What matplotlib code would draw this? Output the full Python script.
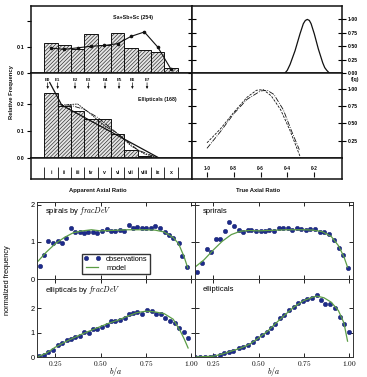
"""Figura compuesta: histogramas de razón axial (escaneo) y frecuencias normalizadas de b/a."""

import matplotlib
import matplotlib.pyplot as plt
import numpy as np

matplotlib.use("Agg")

W, H = 367, 377
plt.rcParams["mathtext.fontset"] = "cm"
plt.rcParams["hatch.linewidth"] = 0.4
plt.rcParams["font.family"] = ["Liberation Sans", "DejaVu Sans"]

# ---------------- parte superior: histogramas de razón axial aparente
clases = ["i", "ii", "iii", "iv", "v", "vi", "vii", "viii", "ix", "x"]
esp_frec = [0.117, 0.109, 0.094, 0.149, 0.106, 0.155, 0.096, 0.090, 0.081, 0.020]
esp_modelo = [0.096, 0.091, 0.097, 0.103, 0.106, 0.113, 0.141, 0.158, 0.100, 0.014]
eli_frec = [0.241, 0.191, 0.173, 0.146, 0.146, 0.088, 0.028, 0.009, 0.0, 0.0]
eli_recta_x = [0.4, 1.1, 1.3, 8.6]
eli_recta_y = [0.28, 0.215, 0.196, 0.0]
eli_rayas1_x = [1.0, 1.8, 2.5, 3.3, 4.5, 5.5, 6.5, 7.5, 8.6]
eli_rayas1_y = [0.19, 0.198, 0.20, 0.17, 0.12, 0.09, 0.045, 0.015, 0.0]
eli_rayas2_x = [1.0, 2.0, 3.0, 4.0, 5.0, 6.0, 7.0, 8.0, 8.6]
eli_rayas2_y = [0.20, 0.195, 0.18, 0.15, 0.11, 0.07, 0.03, 0.01, 0.0]
etiquetas_e = ["E0", "E1", "E2", "E3", "E4", "E5", "E6", "E7"]
pos_e = [0.25, 1.0, 2.3, 3.3, 4.55, 5.6, 6.6, 7.7]

# razón axial verdadera f(q)
q_ticks = [1.0, 0.8, 0.6, 0.4, 0.2]
q_etiquetas = ["1·0", "0·8", "0·6", "0·4", "0·2"]
fq_esp_q = [0.417, 0.40, 0.379, 0.342, 0.305, 0.28, 0.265, 0.25, 0.235, 0.222,
            0.198, 0.168, 0.135, 0.12, 0.105, 0.086]
fq_esp_f = [0.0, 0.05, 0.16, 0.415, 0.73, 0.92, 0.98, 1.0, 0.98, 0.92,
            0.73, 0.45, 0.19, 0.10, 0.05, 0.0]
fq_eli1_q = [1.0, 0.9, 0.8, 0.7, 0.63, 0.58, 0.52, 0.45, 0.38, 0.30]
fq_eli1_f = [0.22, 0.42, 0.66, 0.88, 0.98, 0.99, 0.90, 0.70, 0.40, 0.0]
fq_eli2_q = [1.0, 0.9, 0.8, 0.7, 0.6, 0.55, 0.5, 0.43, 0.37, 0.31]
fq_eli2_f = [0.14, 0.38, 0.64, 0.85, 0.97, 0.98, 0.92, 0.70, 0.40, 0.12]

# ---------------- parte inferior: frecuencia normalizada de b/a
esp_frac_b = [0.164, 0.186, 0.213, 0.237, 0.263, 0.287, 0.31, 0.336, 0.359, 0.387,
              0.41, 0.43, 0.46, 0.48, 0.51, 0.535, 0.56, 0.58, 0.605, 0.63,
              0.657, 0.68, 0.70, 0.73, 0.75, 0.778, 0.80, 0.83, 0.855, 0.878,
              0.90, 0.93, 0.95, 0.976]
esp_frac_v = [0.36, 0.66, 1.04, 0.98, 1.04, 0.98, 1.12, 1.38, 1.27, 1.27,
              1.24, 1.27, 1.26, 1.25, 1.31, 1.36, 1.29, 1.29, 1.33, 1.31,
              1.45, 1.38, 1.40, 1.39, 1.39, 1.38, 1.43, 1.38, 1.27, 1.18,
              1.12, 0.96, 0.61, 0.32]
esp_frac_mod_b = [0.15, 0.2, 0.25, 0.3, 0.35, 0.4, 0.45, 0.5, 0.55, 0.6, 0.65,
                  0.7, 0.75, 0.8, 0.85, 0.9, 0.93, 0.96, 0.98]
esp_frac_mod_v = [0.45, 0.72, 0.95, 1.12, 1.25, 1.30, 1.33, 1.30, 1.31, 1.32, 1.33,
                  1.33, 1.33, 1.32, 1.27, 1.12, 0.95, 0.60, 0.30]

esp_b = [0.159, 0.187, 0.215, 0.239, 0.265, 0.289, 0.313, 0.339, 0.363, 0.39,
         0.413, 0.44, 0.46, 0.487, 0.513, 0.537, 0.56, 0.587, 0.61, 0.635,
         0.66, 0.685, 0.71, 0.735, 0.76, 0.785, 0.813, 0.837, 0.862, 0.887,
         0.915, 0.943, 0.967, 0.993]
esp_v = [0.18, 0.44, 0.80, 0.74, 1.08, 1.08, 1.31, 1.54, 1.43, 1.32,
         1.27, 1.32, 1.32, 1.30, 1.31, 1.31, 1.32, 1.30, 1.37, 1.37,
         1.39, 1.32, 1.37, 1.34, 1.32, 1.34, 1.35, 1.27, 1.27, 1.21,
         1.06, 0.85, 0.65, 0.30]
esp_mod_b = [0.15, 0.2, 0.25, 0.3, 0.35, 0.4, 0.45, 0.5, 0.55, 0.6, 0.65, 0.7,
             0.75, 0.8, 0.85, 0.9, 0.94, 0.97, 0.99]
esp_mod_v = [0.32, 0.52, 0.78, 1.02, 1.20, 1.29, 1.31, 1.30, 1.31, 1.32, 1.33, 1.33,
             1.33, 1.32, 1.28, 1.15, 0.90, 0.60, 0.32]

eli_frac_b = [0.159, 0.186, 0.213, 0.24, 0.263, 0.287, 0.314, 0.336, 0.359, 0.387,
              0.41, 0.436, 0.459, 0.483, 0.509, 0.533, 0.556, 0.582, 0.605, 0.632,
              0.656, 0.678, 0.702, 0.729, 0.754, 0.782, 0.806, 0.833, 0.857, 0.882,
              0.91, 0.933, 0.957, 0.982]
eli_frac_v = [0.05, 0.08, 0.22, 0.29, 0.49, 0.56, 0.69, 0.72, 0.83, 0.86,
              1.01, 0.97, 1.16, 1.13, 1.24, 1.31, 1.47, 1.47, 1.51, 1.62,
              1.78, 1.81, 1.85, 1.76, 1.92, 1.89, 1.78, 1.78, 1.62, 1.48,
              1.40, 1.21, 1.01, 0.80]
eli_frac_mod_b = [0.15, 0.2, 0.25, 0.3, 0.35, 0.4, 0.45, 0.5, 0.55, 0.6, 0.65,
                  0.7, 0.75, 0.8, 0.85, 0.9, 0.94, 0.96, 0.982]
eli_frac_mod_v = [0.0, 0.15, 0.40, 0.60, 0.78, 0.95, 1.10, 1.25, 1.40, 1.52, 1.68,
                  1.82, 1.88, 1.85, 1.78, 1.55, 1.05, 0.75, 0.37]

eli_b = [0.15, 0.178, 0.206, 0.23, 0.256, 0.285, 0.307, 0.335, 0.359, 0.39,
         0.415, 0.44, 0.468, 0.493, 0.517, 0.544, 0.567, 0.59, 0.617, 0.64,
         0.668, 0.693, 0.718, 0.743, 0.767, 0.793, 0.82, 0.844, 0.868, 0.896,
         0.922, 0.946, 0.97, 0.996]
eli_v = [0.01, 0.01, 0.01, 0.01, 0.04, 0.08, 0.15, 0.22, 0.26, 0.35,
         0.40, 0.49, 0.63, 0.76, 0.90, 1.03, 1.21, 1.35, 1.58, 1.71,
         1.92, 2.05, 2.23, 2.30, 2.40, 2.44, 2.53, 2.35, 2.19, 2.16,
         1.99, 1.65, 1.35, 1.03]
eli_mod_b = [0.15, 0.25, 0.3, 0.35, 0.4, 0.45, 0.5, 0.55, 0.6, 0.65, 0.7, 0.75,
             0.8, 0.82, 0.86, 0.9, 0.94, 0.97, 0.99]
eli_mod_v = [0.0, 0.03, 0.12, 0.24, 0.36, 0.52, 0.78, 1.06, 1.42, 1.76, 2.08, 2.32,
             2.46, 2.50, 2.43, 2.25, 1.90, 1.40, 0.65]

b_ticks = [0.25, 0.50, 0.75, 1.00]
b_etiquetas = [r"$0.25$", r"$0.50$", r"$0.75$", r"$1.00$"]

AZUL = "#1d2b8c"
VERDE = "#5c9d46"
NEGRO = "#111111"


def caja(fig, x0, y0, x1, y1):
    """Ejes a partir de una caja en píxeles (origen arriba a la izquierda)."""
    return fig.add_axes([x0 / W, 1 - y1 / H, (x1 - x0) / W, (y1 - y0) / H])


def marco(ax):
    for lado in ax.spines.values():
        lado.set_linewidth(1.1)
        lado.set_color(NEGRO)
    ax.set_xticks([])
    ax.set_yticks([])


fig = plt.figure(figsize=(W / 100, H / 100), dpi=100)

ax_h1 = caja(fig, 31, 6, 192, 73)
ax_h2 = caja(fig, 31, 73, 192, 158)
ax_sl = caja(fig, 31, 158, 192, 179)
ax_f1 = caja(fig, 192, 6, 342, 73)
ax_f2 = caja(fig, 192, 73, 342, 158)
ax_sr = caja(fig, 192, 158, 342, 179)
for ax in (ax_h1, ax_h2, ax_sl, ax_f1, ax_f2, ax_sr):
    marco(ax)

fuente_scan = dict(fontsize=3.8, fontweight="bold", color=NEGRO)
x_bins = np.arange(len(clases))

# histograma espirales
ax_h1.bar(x_bins, esp_frec, width=1, align="edge", facecolor="#e4e4e4",
          edgecolor=NEGRO, hatch="/" * 9, linewidth=0.7)
ax_h1.plot(x_bins + 0.5, esp_modelo, "-o", color=NEGRO, ms=1.6, lw=0.8)
ax_h1.set_xlim(-1, 11.07)
ax_h1.set_ylim(0, 0.258)
ax_h1.text(6.65, 0.215, "Sa+Sb+Sc (254)", ha="center", va="center", **fuente_scan)

# histograma elípticas
ax_h2.bar(x_bins, eli_frec, width=1, align="edge", facecolor="#e4e4e4",
          edgecolor=NEGRO, hatch="/" * 9, linewidth=0.7)
ax_h2.plot(eli_recta_x, eli_recta_y, "-", color=NEGRO, lw=0.9)
ax_h2.plot(eli_rayas1_x, eli_rayas1_y, "--", color=NEGRO, lw=0.6, dashes=(2, 1))
ax_h2.plot(eli_rayas2_x, eli_rayas2_y, "-.", color=NEGRO, lw=0.6)
ax_h2.set_xlim(-1, 11.07)
ax_h2.set_ylim(0, 0.315)
ax_h2.text(8.45, 0.215, "Ellipticals (168)", ha="center", va="center", **fuente_scan)
for etiqueta, x in zip(etiquetas_e, pos_e):
    ax_h2.text(x, 0.289, etiqueta, ha="center", va="center", fontsize=3.2,
               fontweight="bold", color=NEGRO)
    ax_h2.annotate("", xy=(x, 0.256), xytext=(x, 0.279),
                   arrowprops=dict(arrowstyle="-|>", lw=0.5, color=NEGRO,
                                   mutation_scale=3, shrinkA=0, shrinkB=0))

for ax, ticks, etiquetas in ((ax_h1, [0.0, 0.1, 0.2], ["0·0", "0·1", ""]),
                             (ax_h2, [0.0, 0.1, 0.2], ["0·0", "0·1", "0·2"])):
    ax.set_yticks(ticks)
    ax.set_yticklabels(etiquetas)
    ax.tick_params(axis="y", direction="out", length=3, width=0.8, pad=1.5,
                   labelsize=3.8, right=True)
    for t in ax.get_yticklabels():
        t.set_fontweight("bold")

# franja de clases
ax_sl.set_xlim(-1, 11.07)
ax_sl.set_ylim(0, 1)
ax_sl.vlines(np.arange(len(clases) + 1), 0, 0.55, color=NEGRO, lw=0.6)
for x, clase in zip(x_bins + 0.5, clases):
    ax_sl.text(x, 0.3, clase, ha="center", va="center", **fuente_scan)
ax_sl.text(0.416, -0.55, "Apparent Axial Ratio", transform=ax_sl.transAxes,
           ha="center", va="center", fontsize=4.2, fontweight="bold", color=NEGRO)

# f(q)
for ax in (ax_f1, ax_f2, ax_sr):
    ax.set_xlim(1.112, -0.009)
ax_f1.plot(fq_esp_q, fq_esp_f, "-", color=NEGRO, lw=0.9)
ax_f1.set_ylim(0, 1.25)
ax_f2.plot(fq_eli1_q, fq_eli1_f, "--", color=NEGRO, lw=0.6, dashes=(3, 1.5))
ax_f2.plot(fq_eli2_q, fq_eli2_f, "-.", color=NEGRO, lw=0.6)
ax_f2.set_ylim(0, 1.23)

for ax, ticks, etiquetas in ((ax_f1, [0.0, 0.25, 0.5, 0.75, 1.0],
                              ["0·00", "0·25", "0·50", "0·75", "1·00"]),
                             (ax_f2, [0.25, 0.5, 0.75, 1.0],
                              ["0·25", "0·50", "0·75", "1·00"])):
    ax.yaxis.tick_right()
    ax.set_yticks(ticks)
    ax.set_yticklabels(etiquetas)
    ax.tick_params(axis="y", direction="inout", length=6, width=0.8, pad=1,
                   labelsize=3.6, left=True)
    for t in ax.get_yticklabels():
        t.set_fontweight("bold")
ax_f2.text(1.09, 0.92, "f(q)", transform=ax_f2.transAxes, ha="center",
           va="center", **fuente_scan)

ax_sr.set_ylim(0, 1)
ax_sr.vlines(q_ticks, 0.1, 0.33, color=NEGRO, lw=0.8)
for q, etiqueta in zip(q_ticks, q_etiquetas):
    ax_sr.text(q, 0.5, etiqueta, ha="center", va="center", fontsize=3.4,
               fontweight="bold", color=NEGRO)
ax_sr.text(0.44, -0.55, "True Axial Ratio", transform=ax_sr.transAxes,
           ha="center", va="center", fontsize=4.2, fontweight="bold", color=NEGRO)

fig.text(12 / W, 1 - 92 / H, "Relative Frequency", rotation=90, ha="center",
         va="center", fontsize=4.2, fontweight="bold", color=NEGRO)

# ---------------- parte inferior
ax_a = caja(fig, 37, 202, 195, 279)
ax_b = caja(fig, 195, 202, 353, 279)
ax_c = caja(fig, 37, 279, 195, 357)
ax_d = caja(fig, 195, 279, 353, 357)

paneles = [
    (ax_a, esp_frac_b, esp_frac_v, esp_frac_mod_b, esp_frac_mod_v,
     r"spirals by $fracDeV$", 2.08),
    (ax_b, esp_b, esp_v, esp_mod_b, esp_mod_v, "sprirals", 2.08),
    (ax_c, eli_frac_b, eli_frac_v, eli_frac_mod_b, eli_frac_mod_v,
     r"ellipticals by $fracDeV$", 3.2),
    (ax_d, eli_b, eli_v, eli_mod_b, eli_mod_v, "ellipticals", 3.2),
]

for ax, b, v, mb, mv, titulo, ytop in paneles:
    ax.plot(b, v, "o", color=AZUL, ms=3.2, mec="#101a66", mew=0.3,
            label="observations")
    ax.plot(mb, mv, "-", color=VERDE, lw=0.9, label="model")
    ax.set_xlim(0.15, 1.02)
    ax.set_ylim(0, ytop)
    ax.set_xticks(b_ticks)
    ax.set_yticks([0, 1, 2])
    ax.tick_params(direction="in", top=True, right=True, length=3, width=0.6,
                   labelsize=5.3, pad=1.5)
    for lado in ax.spines.values():
        lado.set_linewidth(0.7)
        lado.set_color("#333333")
    ax.text(0.05, 0.88 if ytop < 3 else 0.86, titulo, transform=ax.transAxes,
            fontsize=5.5, ha="left", va="center")

for ax in (ax_a, ax_b):
    ax.set_xticklabels([])
for ax in (ax_b, ax_d):
    ax.set_yticklabels([])
for ax in (ax_c, ax_d):
    ax.set_xticklabels(b_etiquetas)
    ax.set_xlabel(r"$b/a$", fontsize=5.8)
    ax.xaxis.set_label_coords(0.5, -0.1)

ax_a.legend(loc="lower center", bbox_to_anchor=(0.5, 0.02), numpoints=2,
            fontsize=5.3, handlelength=2.2, borderpad=0.3, labelspacing=0.2,
            fancybox=False, edgecolor="#333333", framealpha=1)

fig.text(8 / W, 1 - 280 / H, "normalized frequency", rotation=90, ha="center",
         va="center", fontsize=5.3)

fig.savefig("out.png", dpi=100)
plt.close(fig)
